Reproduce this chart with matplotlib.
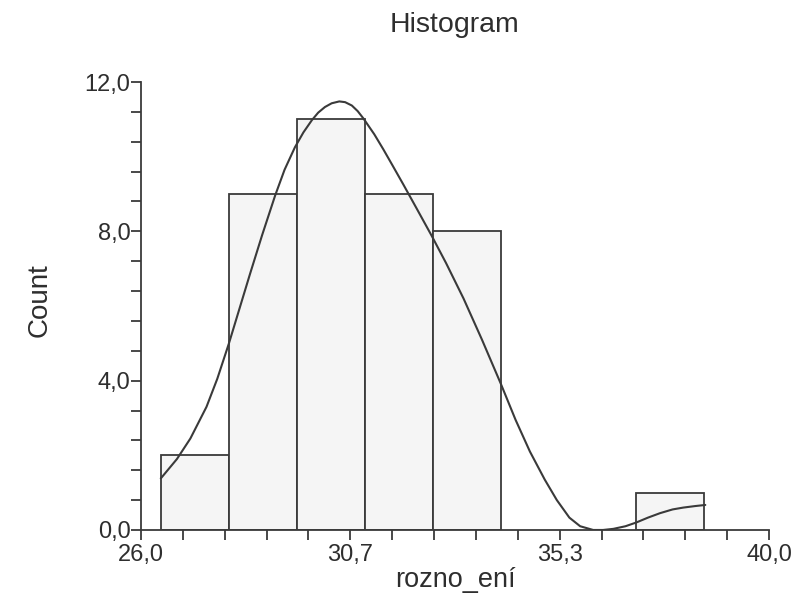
import matplotlib
matplotlib.use("Agg")
import matplotlib.pyplot as plt
import numpy as np
from matplotlib.ticker import AutoMinorLocator

plt.rcParams['font.family'] = ['Liberation Sans', 'DejaVu Sans']

# histogram data
bin_edges = [26.44, 27.955, 29.47, 30.985, 32.50, 34.015, 35.53, 37.045, 38.56]
counts = [2, 9, 11, 9, 8, 0, 0, 1]

# fitted curve
curve_x = [26.44, 26.80, 27.10, 27.46, 27.70, 27.96, 28.20, 28.43, 28.70, 28.99,
           29.20, 29.43, 29.62, 29.81, 29.95, 30.10, 30.25, 30.42, 30.55, 30.70,
           30.83, 30.96, 31.20, 31.40, 31.60, 31.85, 32.15, 32.48, 32.80, 33.19,
           33.60, 34.02, 34.35, 34.67, 35.00, 35.27, 35.55, 35.79, 36.08, 36.30,
           36.53, 36.80, 37.04, 37.30, 37.57, 37.85, 38.09, 38.35, 38.58]
curve_y = [1.38, 1.90, 2.45, 3.30, 4.05, 5.00, 5.95, 6.86, 7.90, 8.96,
           9.65, 10.25, 10.65, 10.98, 11.18, 11.33, 11.43, 11.48, 11.46, 11.37,
           11.22, 11.02, 10.60, 10.20, 9.78, 9.25, 8.60, 7.88, 7.15, 6.20,
           5.10, 3.92, 2.95, 2.10, 1.35, 0.80, 0.33, 0.10, 0.0, 0.0,
           0.03, 0.10, 0.20, 0.33, 0.45, 0.55, 0.60, 0.64, 0.67]

xticks = [26.0, 30.6667, 35.3333, 40.0]
xtick_labels = ["26,0", "30,7", "35,3", "40,0"]
yticks = [0.0, 4.0, 8.0, 12.0]
ytick_labels = ["0,0", "4,0", "8,0", "12,0"]

line_col = "#3a3a3a"
text_col = "#2e2e2e"
fig = plt.figure(figsize=(7.95, 6.07), dpi=100)
ax = fig.add_axes([0.1774, 0.1269, 0.7899, 0.738])

lefts = bin_edges[:-1]
widths = np.diff(bin_edges)
for l, w, c in zip(lefts, widths, counts):
    if c > 0:
        ax.bar(l, c, width=w, align='edge', color="#f5f5f5",
               edgecolor=line_col, linewidth=1.3, zorder=2)

ax.plot(curve_x, curve_y, color=line_col, linewidth=1.5, zorder=3,
        solid_capstyle='round', solid_joinstyle='round')

ax.set_xlim(26.0, 40.0)
ax.set_ylim(0.0, 12.0)
ax.set_xticks(xticks)
ax.set_xticklabels(xtick_labels)
ax.set_yticks(yticks)
ax.set_yticklabels(ytick_labels)
ax.xaxis.set_minor_locator(AutoMinorLocator(5))
ax.yaxis.set_minor_locator(AutoMinorLocator(5))

for s in ['top', 'right']:
    ax.spines[s].set_visible(False)
for s in ['left', 'bottom']:
    ax.spines[s].set_color(line_col)
    ax.spines[s].set_linewidth(1.3)

ax.tick_params(which='both', direction='out', length=7, width=1.3,
               color=line_col, labelsize=17, labelcolor=text_col)
ax.tick_params(axis='x', pad=3)
ax.tick_params(axis='y', pad=0.5)

fig.text(455 / 795, 1 - 25 / 607, "Histogram", fontsize=20.5, color=text_col,
         ha='center', va='center')
fig.text(455 / 795, 1 - 580 / 607, "rozno_ení", fontsize=19.5, color=text_col,
         ha='center', va='center')
fig.text(40 / 795, 1 - 300 / 607, "Count", fontsize=20, color=text_col,
         ha='center', va='center', rotation=90)

fig.savefig("out.png", dpi=100, facecolor="white")
